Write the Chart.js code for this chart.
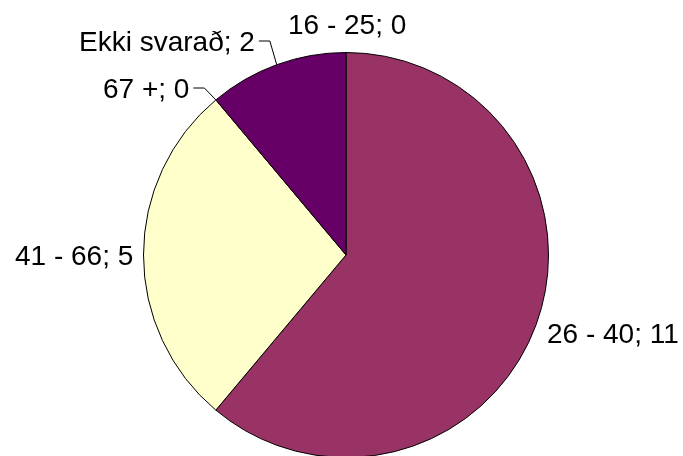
<!DOCTYPE html>
<html>
<head>
<meta charset="utf-8">
<script src="https://cdn.jsdelivr.net/npm/chart.js@4/dist/chart.umd.min.js"></script>
<style>
  html, body { margin: 0; padding: 0; background: #fff; overflow: hidden; }
  #wrap { width: 683px; height: 456px; overflow: hidden; }
</style>
</head>
<body>
<div id="wrap"><canvas id="pieChart" width="683" height="470"></canvas></div>
<script>
const categories = ['16 - 25', '26 - 40', '41 - 66', '67 +', 'Ekki svarað'];
const counts = [0, 11, 5, 0, 2];
const sliceColors = ['#CCFFFF', '#993366', '#FFFFCC', '#CCFFFF', '#660066'];

// where each label text sits (left x, baseline y) and whether it gets a leader line
const labelPlaces = [
  { x: 288, y: 34, leader: false },
  { x: 547, y: 343, leader: false },
  { x: 15, y: 265, leader: false },
  { x: 103, y: 98, leader: true },
  { x: 79, y: 51, leader: true }
];

const labelPlugin = {
  id: 'sliceLabels',
  afterDatasetsDraw(chart) {
    const ctx = chart.ctx;
    const meta = chart.getDatasetMeta(0);
    ctx.save();
    ctx.font = '28px "Liberation Sans", Arial, sans-serif';
    ctx.fillStyle = '#000';
    ctx.strokeStyle = '#000';
    ctx.lineWidth = 1;
    ctx.textBaseline = 'alphabetic';
    meta.data.forEach((arc, i) => {
      const place = labelPlaces[i];
      const text = categories[i] + '; ' + counts[i];
      ctx.fillText(text, place.x, place.y);
      if (place.leader) {
        const p = arc.getProps(['x', 'y', 'startAngle', 'endAngle', 'outerRadius'], true);
        const mid = (p.startAngle + p.endAngle) / 2;
        const ex = p.x + Math.cos(mid) * p.outerRadius;
        const ey = p.y + Math.sin(mid) * p.outerRadius;
        const w = ctx.measureText(text).width;
        const ly = place.y - 10;
        ctx.beginPath();
        ctx.moveTo(place.x + w + 4, ly);
        ctx.lineTo(place.x + w + 15, ly);
        ctx.lineTo(ex, ey);
        ctx.stroke();
      }
    });
    ctx.restore();
  }
};

new Chart(document.getElementById('pieChart'), {
  type: 'pie',
  data: {
    labels: categories,
    datasets: [{
      data: counts,
      backgroundColor: sliceColors,
      borderColor: '#000',
      borderWidth: 1,
      hoverOffset: 0
    }]
  },
  options: {
    responsive: false,
    animation: false,
    devicePixelRatio: 1,
    layout: { padding: { top: 52, bottom: 12, left: 143, right: 134 } },
    plugins: {
      legend: { display: false },
      tooltip: { enabled: false }
    }
  },
  plugins: [labelPlugin]
});
</script>
</body>
</html>
